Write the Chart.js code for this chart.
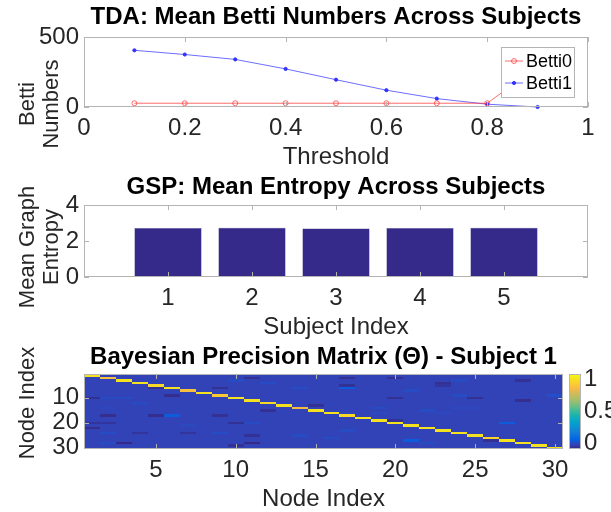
<!DOCTYPE html>
<html>
<head>
<meta charset="utf-8">
<script src="https://cdn.jsdelivr.net/npm/chart.js@4.4.0/dist/chart.umd.min.js"></script>
<style>
  body { margin: 0; background: #fff; }
  .panel { position: absolute; left: 0; width: 611px; }
</style>
</head>
<body>
<div class="panel" style="top:0;height:170px"><canvas id="tdaChart" width="611" height="170"></canvas></div>
<div class="panel" style="top:170px;height:170px"><canvas id="gspChart" width="611" height="170"></canvas></div>
<div class="panel" style="top:320px;height:192px"><canvas id="thetaChart" width="611" height="192"></canvas></div>
<script>
// ---- data ----
const thresholds = [0.1, 0.2, 0.3, 0.4, 0.5, 0.6, 0.7, 0.8, 0.9];
const betti0 = [27, 27, 27, 27, 27, 27, 27, 27, 290];
const betti1 = [405, 375, 340, 272, 195, 120, 60, 20, 0];

const subjects = [1, 2, 3, 4, 5];
const meanEntropy = [2.72, 2.73, 2.70, 2.72, 2.74];

const nodeCount = 30;
const nodeTicksX = [5, 10, 15, 20, 25, 30];
const nodeTicksY = [10, 20, 30];
const colorbarTicks = [0, 0.5, 1];
const colorLimits = [-0.08, 1.08];
// diagonal of Theta (node 1..30)
const thetaDiag = [1, 0.88, 1, 1, 0.97, 1, 0.88, 1, 0.92, 1, 1, 0.97, 1, 0.86, 1,
                   1, 0.97, 1, 1, 1, 1, 1, 1, 1, 1, 0.95, 1, 1, 1, 1];
const thetaOffDiag = -0.01;
// off-diagonal cells that stand out: [row, col, value]
const thetaCells = [
  [10, 1, -0.06], [10, 2, 0.01], [10, 3, 0.01], [12, 4, 0.01], [14, 2, 0.0],
  [17, 2, -0.07], [17, 5, -0.07], [17, 6, 0.05], [20, 1, -0.05], [20, 2, -0.05],
  [22, 1, -0.07], [24, 4, -0.05], [24, 7, -0.05], [24, 2, 0.01], [21, 7, 0.0],
  [28, 3, -0.08], [28, 2, 0.01], [9, 6, -0.07], [6, 5, -0.06],
  [2, 11, -0.06], [3, 10, 0.01], [4, 12, 0.01], [6, 9, -0.06], [15, 12, -0.06],
  [17, 9, -0.06], [20, 10, -0.06], [20, 11, 0.01], [24, 9, 0.01], [25, 11, -0.06],
  [25, 14, 0.01], [28, 11, -0.08], [29, 10, -0.06], [13, 15, -0.06], [6, 14, 0.01],
  [2, 17, -0.06], [5, 17, -0.06], [6, 17, 0.05], [2, 20, -0.06], [10, 20, -0.06],
  [7, 21, 0.01], [4, 23, -0.06], [14, 19, 0.01], [15, 22, 0.01], [16, 17, 0.0],
  [23, 17, 0.01], [26, 16, 0.01], [27, 21, 0.05], [28, 22, 0.01], [19, 20, -0.06],
  [16, 19, 0.0], [3, 24, 0.01], [3, 28, -0.06], [5, 23, -0.05], [9, 24, 0.01],
  [9, 30, 0.02], [10, 25, -0.06], [11, 28, -0.07], [14, 24, 0.0], [14, 25, 0.0],
  [16, 23, 0.0], [20, 27, 0.05], [27, 26, -0.06]
];

// ---- helpers ----
const fontFamily = "'Liberation Sans', Arial, sans-serif";
Chart.defaults.font.family = fontFamily;
Chart.defaults.color = '#262626';
Chart.defaults.animation = false;

// MATLAB parula (R2014b), every 4th of the 64 entries
const parulaStops = [
  [0.2081, 0.1663, 0.5292], [0.1959, 0.2645, 0.7279], [0.0117, 0.3875, 0.8820],
  [0.0498, 0.4586, 0.8641], [0.0793, 0.5200, 0.8312], [0.0343, 0.5966, 0.8199],
  [0.0228, 0.6535, 0.7768], [0.0843, 0.6928, 0.7062], [0.2178, 0.7250, 0.6193],
  [0.3953, 0.7459, 0.5244], [0.5709, 0.7485, 0.4494], [0.7184, 0.7411, 0.3905],
  [0.8507, 0.7299, 0.3360], [0.9739, 0.7314, 0.2666], [0.9880, 0.8066, 0.1794],
  [0.9589, 0.8949, 0.1132], [0.9763, 0.9831, 0.0538]
];
function parula(t) {
  t = Math.max(0, Math.min(1, t));
  const p = t * (parulaStops.length - 1);
  const i = Math.min(Math.floor(p), parulaStops.length - 2);
  const f = p - i;
  const c = parulaStops[i].map((v, k) => Math.round(255 * (v + (parulaStops[i + 1][k] - v) * f)));
  return `rgb(${c[0]},${c[1]},${c[2]})`;
}

const boxColor = '#b4b4b4';
const tickFont = { size: 24 };
const labelFont = { size: 24, lineHeight: 1 };
const titleFont = { size: 24, weight: 'bold' };
const fmtTick = v => String(Number(v.toFixed(2)));

// box around the axes plus MATLAB style inward ticks
const axesBox = {
  id: 'axesBox',
  afterDatasetsDraw(chart) {
    const { ctx, chartArea: a, scales } = chart;
    ctx.save();
    ctx.strokeStyle = boxColor;
    ctx.lineWidth = 1;
    ctx.strokeRect(a.left + 0.5, a.top + 0.5, a.right - a.left - 1, a.bottom - a.top - 1);
    const len = 5;
    ctx.beginPath();
    scales.x.ticks.forEach(t => {
      const px = Math.round(scales.x.getPixelForValue(t.value)) + 0.5;
      ctx.moveTo(px, a.bottom); ctx.lineTo(px, a.bottom - len);
      ctx.moveTo(px, a.top); ctx.lineTo(px, a.top + len);
    });
    scales.y.ticks.forEach(t => {
      const py = Math.round(scales.y.getPixelForValue(t.value)) + 0.5;
      ctx.moveTo(a.left, py); ctx.lineTo(a.left + len, py);
      ctx.moveTo(a.right, py); ctx.lineTo(a.right - len, py);
    });
    ctx.stroke();
    ctx.restore();
  }
};

// rotated y label (can be several lines)
const sideLabel = {
  id: 'sideLabel',
  afterDraw(chart, args, opts) {
    const { ctx } = chart;
    ctx.save();
    ctx.font = `${opts.size}px ${fontFamily}`;
    ctx.fillStyle = '#262626';
    ctx.textAlign = 'center';
    ctx.textBaseline = 'middle';
    opts.lines.forEach((line, i) => {
      ctx.save();
      ctx.translate(opts.x + i * opts.gap, opts.y);
      ctx.rotate(-Math.PI / 2);
      ctx.fillText(line, 0, 0);
      ctx.restore();
    });
    ctx.restore();
  }
};

function baseScales(xTitle) {
  return {
    x: {
      type: 'linear',
      grid: { display: false, drawTicks: false },
      border: { display: false },
      ticks: { font: tickFont, padding: 6.6, maxRotation: 0, autoSkip: false, callback: fmtTick },
      title: { display: true, text: xTitle, font: labelFont, padding: { top: 0, bottom: 1 } },
      afterFit: s => { s.height = 63; }
    },
    y: {
      type: 'linear',
      grid: { display: false, drawTicks: false },
      border: { display: false },
      ticks: { font: tickFont, padding: 5, autoSkip: false, callback: fmtTick },
      afterFit: s => { s.width = 84; }
    }
  };
}

// ---- TDA line chart ----
const tdaLegend = {
  id: 'tdaLegend',
  afterDatasetsDraw(chart) {
    const { ctx, chartArea: a } = chart;
    const x0 = a.right - 87, y0 = a.top + 10, w = 73, h = 50;
    ctx.save();
    ctx.fillStyle = '#fff';
    ctx.fillRect(x0, y0, w, h);
    ctx.strokeStyle = boxColor;
    ctx.strokeRect(x0 + 0.5, y0 + 0.5, w, h);
    chart.data.datasets.forEach((ds, i) => {
      const cy = y0 + 14 + i * 22;
      ctx.strokeStyle = ds.borderColor;
      ctx.lineWidth = 1;
      ctx.beginPath(); ctx.moveTo(x0 + 4, cy); ctx.lineTo(x0 + 22, cy); ctx.stroke();
      ctx.beginPath();
      ctx.arc(x0 + 13, cy, ds.pointRadius, 0, Math.PI * 2);
      ctx.fillStyle = ds.pointBackgroundColor;
      ctx.fill();
      ctx.strokeStyle = ds.pointBorderColor;
      ctx.stroke();
      ctx.fillStyle = '#000';
      ctx.font = `18px ${fontFamily}`;
      ctx.textBaseline = 'middle';
      ctx.fillText(ds.label, x0 + 25, cy + 1);
    });
    ctx.restore();
  }
};

const tdaScales = baseScales('Threshold');
Object.assign(tdaScales.x, { min: 0, max: 1 });
tdaScales.x.ticks.stepSize = 0.2;
Object.assign(tdaScales.y, { min: 0, max: 500 });
tdaScales.y.ticks.stepSize = 500;

new Chart(document.getElementById('tdaChart'), {
  type: 'line',
  data: {
    datasets: [
      {
        label: 'Betti0',
        data: thresholds.map((t, i) => ({ x: t, y: betti0[i] })),
        borderColor: 'rgba(255,60,60,0.75)', borderWidth: 1,
        pointRadius: 2.5, pointBorderWidth: 1,
        pointBorderColor: 'rgba(255,60,60,0.75)', pointBackgroundColor: 'rgba(255,255,255,0)'
      },
      {
        label: 'Betti1',
        data: thresholds.map((t, i) => ({ x: t, y: betti1[i] })),
        borderColor: 'rgba(60,60,255,0.75)', borderWidth: 1,
        pointRadius: 1.6, pointBorderWidth: 1,
        pointBorderColor: 'rgba(40,40,255,0.9)', pointBackgroundColor: 'rgba(40,40,255,0.9)'
      }
    ]
  },
  options: {
    responsive: false,
    clip: false,
    layout: { padding: { left: 0, right: 23, top: 0, bottom: 0 } },
    plugins: {
      legend: { display: false },
      tooltip: { enabled: false },
      title: { display: true, fullSize: false, text: 'TDA: Mean Betti Numbers Across Subjects',
               font: titleFont, color: '#000', padding: { top: 2.6, bottom: 5.6 } },
      sideLabel: { lines: ['Betti', 'Numbers'], x: 28, y: 104, gap: 24, size: 22 }
    },
    scales: tdaScales
  },
  plugins: [axesBox, tdaLegend, sideLabel]
});

// ---- GSP bar chart ----
const gspScales = baseScales('Subject Index');
Object.assign(gspScales.x, { min: 0, max: 6, offset: false });
gspScales.x.afterBuildTicks = s => { s.ticks = subjects.map(v => ({ value: v })); };
Object.assign(gspScales.y, { min: 0, max: 4 });
gspScales.y.ticks.stepSize = 2;

new Chart(document.getElementById('gspChart'), {
  type: 'bar',
  data: {
    datasets: [{
      data: subjects.map((s, i) => ({ x: s, y: meanEntropy[i] })),
      backgroundColor: '#35298a',
      borderColor: '#55558f', borderWidth: 0.5,
      barPercentage: 0.8, categoryPercentage: 1
    }]
  },
  options: {
    responsive: false,
    layout: { padding: { left: 0, right: 23, top: 0, bottom: 0 } },
    plugins: {
      legend: { display: false },
      tooltip: { enabled: false },
      title: { display: true, fullSize: false, text: 'GSP: Mean Entropy Across Subjects',
               font: titleFont, color: '#000', padding: { top: 2.6, bottom: 3.6 } },
      sideLabel: { lines: ['Mean Graph', 'Entropy'], x: 28, y: 77, gap: 24, size: 22 }
    },
    scales: gspScales
  },
  plugins: [axesBox, sideLabel]
});

// ---- Theta heatmap ----
const thetaPoints = [];
for (let r = 1; r <= nodeCount; r++) {
  for (let c = 1; c <= nodeCount; c++) {
    thetaPoints.push({ x: c, y: r, v: r === c ? thetaDiag[r - 1] : thetaOffDiag });
  }
}
thetaCells.forEach(([r, c, v]) => { thetaPoints[(r - 1) * nodeCount + (c - 1)].v = v; });

const colorOf = v => parula((v - colorLimits[0]) / (colorLimits[1] - colorLimits[0]));

const heatCells = {
  id: 'heatCells',
  beforeDatasetsDraw(chart) {
    const { ctx, scales: { x, y } } = chart;
    ctx.save();
    chart.data.datasets[0].data.forEach(p => {
      const x0 = Math.round(x.getPixelForValue(p.x - 0.5));
      const x1 = Math.round(x.getPixelForValue(p.x + 0.5));
      const y0 = Math.round(y.getPixelForValue(p.y - 0.5));
      const y1 = Math.round(y.getPixelForValue(p.y + 0.5));
      ctx.fillStyle = colorOf(p.v);
      ctx.fillRect(x0, y0, x1 - x0, y1 - y0);
    });
    ctx.restore();
  }
};

const colorBar = {
  id: 'colorBar',
  afterDraw(chart) {
    const { ctx, chartArea: a, scales: { cb } } = chart;
    const top = cb.getPixelForValue(colorLimits[1]);
    const bottom = cb.getPixelForValue(colorLimits[0]);
    const x0 = a.right + 6, w = 11;
    const grad = ctx.createLinearGradient(0, bottom, 0, top);
    for (let i = 0; i <= 32; i++) grad.addColorStop(i / 32, parula(i / 32));
    ctx.save();
    ctx.fillStyle = grad;
    ctx.fillRect(x0, top, w, bottom - top);
    ctx.strokeStyle = boxColor;
    ctx.strokeRect(x0 + 0.5, top + 0.5, w, bottom - top - 1);
    ctx.restore();
  }
};

const thetaScales = baseScales('Node Index');
Object.assign(thetaScales.x, { min: 0.5, max: nodeCount + 0.5 });
thetaScales.x.afterBuildTicks = s => { s.ticks = nodeTicksX.map(v => ({ value: v })); };
Object.assign(thetaScales.y, { min: 0.5, max: nodeCount + 0.5, reverse: true });
thetaScales.y.afterBuildTicks = s => { s.ticks = nodeTicksY.map(v => ({ value: v })); };
thetaScales.cb = {
  type: 'linear', position: 'right', min: colorLimits[0], max: colorLimits[1],
  grid: { display: false, drawTicks: false },
  border: { display: false },
  ticks: { font: tickFont, padding: 21, callback: fmtTick },
  afterBuildTicks: s => { s.ticks = colorbarTicks.map(v => ({ value: v })); },
  afterFit: s => { s.width = 48; }
};

new Chart(document.getElementById('thetaChart'), {
  type: 'scatter',
  data: { datasets: [{ data: thetaPoints, pointRadius: 0 }] },
  options: {
    responsive: false,
    layout: { padding: 0 },
    plugins: {
      legend: { display: false },
      tooltip: { enabled: false },
      title: { display: true, fullSize: false, text: 'Bayesian Precision Matrix (\u0398) - Subject 1',
               font: titleFont, color: '#000', padding: { top: 22.6, bottom: 2.6 } },
      sideLabel: { lines: ['Node Index'], x: 28, y: 83, gap: 24, size: 22 }
    },
    scales: thetaScales
  },
  plugins: [heatCells, axesBox, colorBar, sideLabel]
});
</script>
</body>
</html>
